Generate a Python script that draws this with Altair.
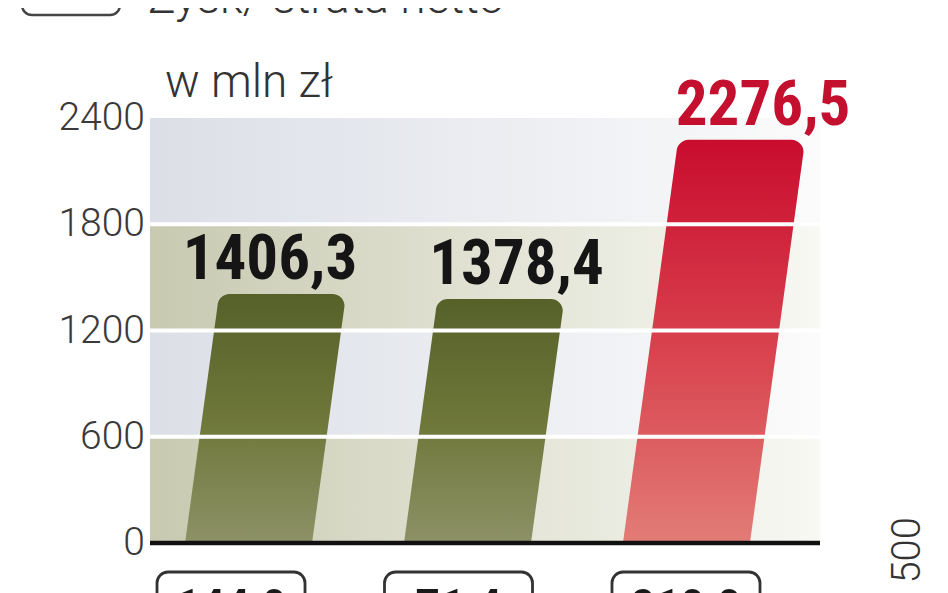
import altair as alt
import numpy as np
import pandas as pd

# ---------------- data ----------------
title_text = ["Zysk/ strata netto"]
unit_text = ["w mln zł"]
side_text = ["500"]
bar_index = [0, 1, 2]
values = [1406.3, 1378.4, 2276.5]
value_labels = ["1406,3", "1378,4", "2276,5"]
bar_kind = ["dark", "dark", "red"]
box_labels = ["144,0", "71,4", "210,0"]
y_ticks = [0, 600, 1200, 1800, 2400]
band_start = [0, 600, 1200, 1800]
band_end = [600, 1200, 1800, 2400]
band_kind = ["olive", "blue", "olive", "blue"]
grid_values = [600, 1200, 1800]

# ---------------- style constants ----------------
X_MIN, X_MAX = -0.45, 2.61
PX_PER_X = 670 / (X_MAX - X_MIN)
PX_PER_Y = 425 / 2400
HW = 0.29             # half bar width (x units)
SLANT = 0.0001108     # horizontal lean per unit of value (x units)
RADIUS_PX = 12        # rounded top corners
LABEL_SPREAD, LABEL_OFFSET = 1.126, 0.098
BOX_SPREAD, BOX_OFFSET, BOX_HW = 1.039, -0.08, 0.338
NARROW = "Roboto Condensed, Liberation Sans Narrow, DejaVu Sans Condensed, sans-serif"
LIGHT = "Roboto, Lato, sans-serif"

xs = alt.Scale(domain=[X_MIN, X_MAX], nice=False, zero=False)
ys = alt.Scale(domain=[0, 2400], nice=False, zero=False)

# slanted bar outlines (with rounded top corners) built from the values
rx = RADIUS_PX / PX_PER_X
ry = RADIUS_PX / PX_PER_Y
angles = np.linspace(0, np.pi / 2, 9)
rows = []
for i, v, k in zip(bar_index, values, bar_kind):
    s = v * SLANT
    x0, x1 = i - HW, i + HW
    xl = lambda h: x0 + s * h / v
    xr = lambda h: x1 + s * h / v
    h0 = v - ry
    cxl, cxr = xl(h0) + rx, xr(h0) - rx
    up_x = [x0, xl(h0)] + list(cxl - rx * np.cos(angles)) + \
        list(cxr + rx * np.sin(angles)) + [xr(h0)]
    up_y = [0, h0] + list(h0 + ry * np.sin(angles)) + \
        list(h0 + ry * np.cos(angles)) + [h0]
    x_end = xr(h0)
    lo_x = [x0, x1, x_end]
    lo_y = [0, 0, h0]
    ux = np.array(up_x)
    order = np.argsort(ux, kind="stable")
    ux, uy = ux[order], np.array(up_y)[order]
    allx = np.unique(np.concatenate([ux, lo_x]))
    for xv in allx:
        rows.append({"bar": i, "kind": k, "px": float(xv),
                     "up": float(np.interp(xv, ux, uy)),
                     "lo": float(np.interp(xv, lo_x, lo_y))})
poly_df = pd.DataFrame(rows)

bars_df = pd.DataFrame({"i": bar_index, "v": values, "label": value_labels,
                        "kind": bar_kind, "box": box_labels})
bands_df = pd.DataFrame({"start": band_start, "end": band_end, "kind": band_kind})
bands_df["x0"] = X_MIN
bands_df["x1"] = X_MAX
grid_df = pd.DataFrame({"y": grid_values})
grid_df["x0"] = X_MIN
grid_df["x1"] = X_MAX
tick_df = pd.DataFrame({"y": y_ticks, "t": [str(t) for t in y_ticks]})
axis_df = pd.DataFrame({"y": [0], "x0": [X_MIN], "x1": [X_MAX]})


def hgrad(c0, c1, c2):
    return alt.Gradient(gradient="linear",
                        stops=[alt.GradientStop(color=c0, offset=0),
                               alt.GradientStop(color=c1, offset=0.55),
                               alt.GradientStop(color=c2, offset=1)],
                        x1=0, x2=1, y1=0, y2=0)


def vgrad(c0, c1, c2):
    return alt.Gradient(gradient="linear",
                        stops=[alt.GradientStop(color=c0, offset=0),
                               alt.GradientStop(color=c1, offset=0.5),
                               alt.GradientStop(color=c2, offset=1)],
                        x1=0, x2=0, y1=0, y2=1)


X = lambda f: alt.X(f, scale=xs, axis=None)
Y = lambda f: alt.Y(f, scale=ys, axis=None)

olive_bands = alt.Chart(bands_df).transform_filter("datum.kind == 'olive'").mark_rect(
    color=hgrad("#c7c9b0", "#e4e5d7", "#f8f8f4")
).encode(x=X("x0:Q"), x2="x1:Q", y=Y("start:Q"), y2="end:Q")
blue_bands = alt.Chart(bands_df).transform_filter("datum.kind == 'blue'").mark_rect(
    color=hgrad("#dcdfe7", "#eceef2", "#fbfbfb")
).encode(x=X("x0:Q"), x2="x1:Q", y=Y("start:Q"), y2="end:Q")

dark_bars = alt.Chart(poly_df).transform_filter("datum.kind == 'dark'").mark_area(
    color=vgrad("#56612a", "#6e7739", "#8d9167"), opacity=1
).encode(x=X("px:Q"), y=Y("up:Q"), y2="lo:Q", detail="bar:N")
red_bars = alt.Chart(poly_df).transform_filter("datum.kind == 'red'").mark_area(
    color=vgrad("#c90c2e", "#d8404c", "#e27c77"), opacity=1
).encode(x=X("px:Q"), y=Y("up:Q"), y2="lo:Q", detail="bar:N")

grid = alt.Chart(grid_df).mark_rule(color="white", strokeWidth=4).encode(
    x=X("x0:Q"), x2="x1:Q", y=Y("y:Q"))
axis_line = alt.Chart(axis_df).mark_rule(color="#111111", strokeWidth=4.5).encode(
    x=X("x0:Q"), x2="x1:Q", y=Y("y:Q"))
tick_text = alt.Chart(tick_df).mark_text(
    font=LIGHT, fontWeight=300, fontSize=39, align="right", baseline="middle",
    color="#3a3a3a").encode(x=alt.value(-5), y=Y("y:Q"), text="t:N")

value_text = alt.Chart(bars_df).transform_calculate(
    lx=f"datum.i * {LABEL_SPREAD} + {LABEL_OFFSET}"
).mark_text(font=NARROW, fontSize=63, fontWeight="bold", align="center",
            baseline="alphabetic", dy=-15).encode(
    x=X("lx:Q"), y=Y("v:Q"), text="label:N",
    color=alt.Color("kind:N", scale=alt.Scale(domain=["dark", "red"],
                                               range=["#151515", "#c40f2e"]),
                    legend=None),
)

boxes = alt.Chart(bars_df).transform_calculate(
    bx0=f"datum.i * {BOX_SPREAD} + {BOX_OFFSET} - {BOX_HW}",
    bx1=f"datum.i * {BOX_SPREAD} + {BOX_OFFSET} + {BOX_HW}",
).mark_rect(fill="white", stroke="#333333", strokeWidth=2.8, cornerRadius=11).encode(
    x=X("bx0:Q"), x2="bx1:Q", y=alt.value(454), y2=alt.value(540))
box_text = alt.Chart(bars_df).transform_calculate(
    bc=f"datum.i * {BOX_SPREAD} + {BOX_OFFSET}"
).mark_text(font=NARROW, fontSize=49, fontWeight="bold", align="center",
            baseline="alphabetic", color="#1a1a1a").encode(
    x=X("bc:Q"), y=alt.value(505), text="box:N")

title = alt.Chart(pd.DataFrame({"t": title_text})).mark_text(
    font=LIGHT, fontWeight=300, fontSize=46, align="left", baseline="alphabetic",
    color="#333333").encode(x=alt.value(-2), y=alt.value(-105), text="t:N")
unit = alt.Chart(pd.DataFrame({"t": unit_text})).mark_text(
    font=LIGHT, fontWeight=300, fontSize=46, align="left", baseline="alphabetic",
    color="#333333").encode(x=alt.value(15), y=alt.value(-21), text="t:N")
side = alt.Chart(pd.DataFrame({"t": side_text})).mark_text(
    font=LIGHT, fontWeight=300, fontSize=40, align="right", baseline="alphabetic",
    angle=270, color="#333333").encode(x=alt.value(770), y=alt.value(399), text="t:N")
corner_box = alt.Chart(pd.DataFrame({"t": ["box"]})).mark_rect(
    fill="white", stroke="#444444", strokeWidth=2.5, cornerRadius=10).encode(
    x=alt.value(-128), x2=alt.value(-30), y=alt.value(-160), y2=alt.value(-103))

chart = alt.layer(
    olive_bands, blue_bands, dark_bars, red_bars, grid, axis_line, tick_text,
    value_text, boxes, box_text, title, unit, side, corner_box,
).properties(
    width=670, height=425,
    autosize=alt.AutoSizeParams(type="none"),
    padding={"left": 142, "top": 110, "right": 120, "bottom": 50},
    background="white",
).configure_view(stroke=None)

chart.save("out.html", embed_options={"renderer": "svg", "actions": False})
